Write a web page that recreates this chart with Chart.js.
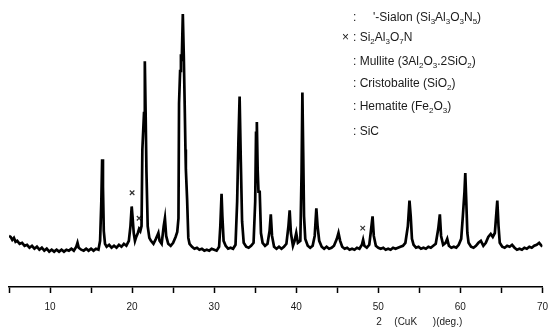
<!DOCTYPE html>
<html>
<head>
<meta charset="utf-8">
<script src="https://cdn.jsdelivr.net/npm/chart.js@4"></script>
<style>
  html, body { margin: 0; padding: 0; background: #fff; }
  #xrd { display: block; }
</style>
</head>
<body>
<canvas id="xrd" width="556" height="329"></canvas>
<script>
// Difractograma: pares [2theta (grados), intensidad (u.a.)]
const scan = [
  [5.0,520],[5.2,510],[5.4,480],[5.6,500],[5.8,460],[6.0,470],[6.3,440],[6.6,450],[6.9,420],[7.2,430],
  [7.5,400],[7.8,420],[8.1,390],[8.4,410],[8.7,380],[9.0,400],[9.3,370],[9.6,390],[9.9,360],[10.2,380],
  [10.5,360],[10.8,380],[11.1,360],[11.4,380],[11.7,360],[12.0,380],[12.3,370],[12.6,390],[12.9,370],[13.2,410],
  [13.35,450],[13.5,400],[13.8,380],[14.1,370],[14.4,390],[14.7,370],[15.0,390],[15.3,370],[15.6,390],[15.9,380],
  [16.1,470],[16.25,870],[16.35,1300],[16.45,1020],[16.55,570],[16.7,440],[16.9,410],[17.2,430],[17.5,400],[17.8,420],
  [18.1,400],[18.4,430],[18.7,410],[19.0,440],[19.3,420],[19.6,470],[19.8,620],[19.95,820],[20.05,720],[20.2,550],
  [20.35,470],[20.5,510],[20.7,550],[20.85,590],[21.0,570],[21.15,620],[21.25,1400],[21.45,1770],[21.55,2300],[21.65,1770],
  [21.75,1170],[21.9,620],[22.1,500],[22.3,470],[22.6,440],[22.9,490],[23.1,530],[23.2,550],[23.35,470],[23.6,440],
  [23.85,620],[24.0,700],[24.15,520],[24.4,440],[24.7,420],[25.0,450],[25.3,510],[25.5,560],[25.65,700],[25.72,1870],
  [25.85,2200],[25.95,2370],[26.05,2300],[26.18,2780],[26.3,2350],[26.42,1800],[26.5,1400],[26.55,1200],[26.7,900],[26.85,500],
  [27.0,440],[27.3,410],[27.6,390],[27.9,400],[28.2,380],[28.5,390],[28.8,370],[29.1,380],[29.4,370],[29.7,390],
  [30.0,380],[30.3,370],[30.6,410],[30.75,620],[30.9,950],[31.0,720],[31.15,470],[31.4,420],[31.7,390],[32.0,400],
  [32.3,390],[32.6,430],[32.8,870],[32.95,1470],[33.1,1940],[33.25,1270],[33.4,670],[33.6,450],[33.9,410],[34.2,400],
  [34.5,420],[34.8,450],[35.0,870],[35.1,1570],[35.2,1680],[35.3,1200],[35.4,970],[35.55,970],[35.7,550],[35.9,450],
  [36.2,420],[36.5,440],[36.75,570],[36.9,740],[37.05,520],[37.3,410],[37.6,390],[37.9,410],[38.2,390],[38.5,410],
  [38.8,440],[39.05,620],[39.2,780],[39.35,550],[39.6,420],[39.8,470],[40.0,550],[40.2,450],[40.5,470],[40.65,1170],
  [40.75,1980],[40.85,1370],[40.95,720],[41.1,490],[41.4,420],[41.7,400],[42.0,420],[42.25,520],[42.45,800],[42.6,620],
  [42.8,470],[43.1,410],[43.4,390],[43.7,410],[44.0,390],[44.3,400],[44.6,420],[44.95,490],[45.15,550],[45.35,470],
  [45.6,410],[45.9,390],[46.2,400],[46.5,380],[46.8,390],[47.1,380],[47.4,400],[47.7,390],[48.0,430],[48.15,480],
  [48.3,420],[48.6,400],[48.9,430],[49.1,570],[49.3,720],[49.45,520],[49.7,420],[50.0,400],[50.3,390],[50.6,400],
  [50.9,380],[51.2,390],[51.5,380],[51.8,400],[52.1,390],[52.4,400],[52.7,410],[53.0,420],[53.3,450],[53.6,620],
  [53.8,880],[53.95,720],[54.1,490],[54.3,430],[54.6,400],[54.9,410],[55.2,390],[55.5,400],[55.8,390],[56.1,410],
  [56.4,400],[56.7,420],[57.0,440],[57.3,590],[57.5,740],[57.65,520],[57.9,430],[58.2,450],[58.4,490],[58.6,420],
  [58.9,400],[59.2,410],[59.5,400],[59.8,430],[60.1,490],[60.3,720],[60.5,970],[60.6,1160],[60.7,920],[60.85,550],
  [61.0,450],[61.3,410],[61.6,400],[61.9,420],[62.2,450],[62.5,470],[62.8,420],[63.1,450],[63.4,510],[63.7,540],
  [63.95,510],[64.2,550],[64.4,770],[64.5,880],[64.65,620],[64.8,450],[65.1,410],[65.4,400],[65.7,420],[66.0,410],
  [66.3,430],[66.6,400],[66.9,380],[67.2,390],[67.5,380],[67.8,400],[68.1,390],[68.4,410],[68.7,400],[69.0,420],
  [69.3,430],[69.6,450],[69.8,430],[70.0,410]
];

// Marcas "x" de Si2Al3O7N sobre los picos
const crossAngles = [20.0, 20.85, 48.1];
const crossHeights = [960, 700, 600];

// Ejes
const xMin = 5, xMax = 70, xStep = 5;
const labelEvery = 10;
const yMax = 2870;

// Leyenda (el "_" marca el subindice siguiente)
const legendRows = [
  ':     \'-Sialon (Si_3Al_3O_3N_5)',
  ': Si_2Al_3O_7N',
  ': Mullite (3Al_2O_3.2SiO_2)',
  ': Cristobalite (SiO_2)',
  ': Hematite (Fe_2O_3)',
  ': SiC'
];
const legendMarks = ['', '\u00d7', '', '', '', ''];
const legendRowY = [18, 38, 62, 84, 107, 132];

const axisTitleParts = ['2', '(CuK', ')(deg.)'];

const FONT = '"Liberation Sans", Arial, sans-serif';
const INK = '#1a1a1a';

// Dibuja un texto con subindices
function drawRich(ctx, text, x, y, size) {
  let cx = x;
  for (let i = 0; i < text.length; i++) {
    let ch = text[i];
    if (ch === '_' && i + 1 < text.length) {
      ch = text[++i];
      ctx.font = (size - 4) + 'px ' + FONT;
      ctx.fillText(ch, cx, y + 4);
      cx += ctx.measureText(ch).width;
    } else {
      ctx.font = size + 'px ' + FONT;
      ctx.fillText(ch, cx, y);
      cx += ctx.measureText(ch).width;
    }
  }
}

const textosPlugin = {
  id: 'textos',
  afterDraw(chart) {
    const ctx = chart.ctx;
    const xs = chart.scales.x;
    ctx.save();
    ctx.fillStyle = INK;
    ctx.textBaseline = 'middle';
    ctx.textAlign = 'left';
    // leyenda
    const lx = chart.chartArea.left + 344;
    legendRows.forEach((row, i) => {
      drawRich(ctx, row, lx, legendRowY[i], 12);
      if (legendMarks[i]) {
        ctx.font = '12px ' + FONT;
        ctx.fillText(legendMarks[i], lx - 11, legendRowY[i]);
      }
    });
    // titulo del eje x
    const tx = xs.getPixelForValue(50) - 2;
    const ty = chart.chartArea.bottom + 35;
    ctx.font = '10px ' + FONT;
    ctx.fillText(axisTitleParts[0], tx, ty);
    ctx.fillText(axisTitleParts[1], tx + 18, ty);
    ctx.fillText(axisTitleParts[2], tx + 56.5, ty);
    ctx.restore();
  }
};

const ctxXrd = document.getElementById('xrd').getContext('2d');
new Chart(ctxXrd, {
  type: 'line',
  data: {
    datasets: [{
      data: scan.map(p => ({ x: p[0], y: p[1] })),
      borderColor: '#000',
      borderWidth: 2.7,
      pointRadius: 0,
      tension: 0,
      fill: false
    }, {
      data: crossAngles.map((a, i) => ({ x: a, y: crossHeights[i] })),
      showLine: false,
      pointStyle: 'crossRot',
      pointRadius: 3.2,
      borderColor: '#333',
      borderWidth: 1.2
    }]
  },
  options: {
    responsive: false,
    animation: false,
    devicePixelRatio: 1,
    layout: { padding: { left: 9, right: 7, top: 0, bottom: 8 } },
    plugins: { legend: { display: false }, tooltip: { enabled: false }, title: { display: false } },
    scales: {
      x: {
        type: 'linear',
        min: xMin,
        max: xMax,
        border: { display: true, color: '#000', width: 1.5 },
        grid: { drawOnChartArea: false, drawTicks: true, tickLength: 6, tickColor: '#000', tickWidth: 1.5 },
        ticks: {
          stepSize: xStep,
          autoSkip: false,
          maxRotation: 0,
          padding: 8,
          color: INK,
          font: { size: 10, family: FONT },
          callback: v => (v % labelEvery === 0 ? String(v) : '')
        }
      },
      y: { display: false, min: 0, max: yMax }
    }
  },
  plugins: [textosPlugin]
});
</script>
</body>
</html>
